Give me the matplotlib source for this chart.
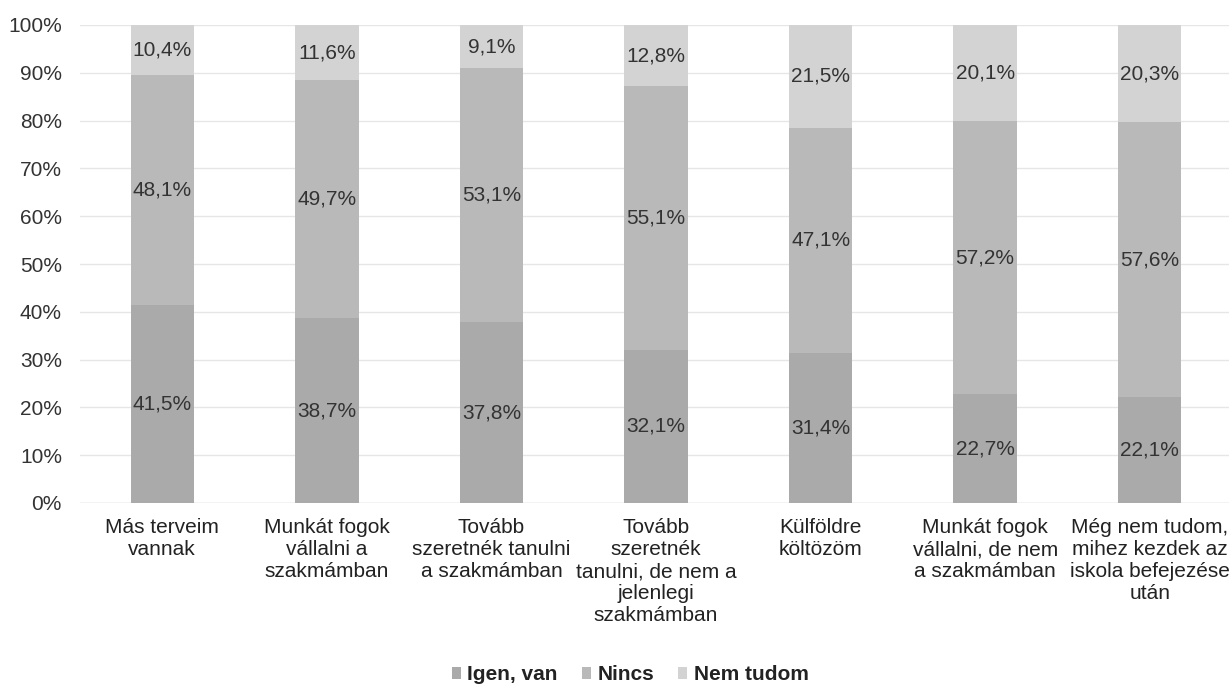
import matplotlib
matplotlib.use("Agg")
import matplotlib.pyplot as plt
import numpy as np

categories = [
    "Más terveim\nvannak",
    "Munkát fogok\nvállalni a\nszakmámban",
    "Tovább\nszeretnék tanulni\na szakmámban",
    "Tovább\nszeretnék\ntanulni, de nem a\njelenlegi\nszakmámban",
    "Külföldre\nköltözöm",
    "Munkát fogok\nvállalni, de nem\na szakmámban",
    "Még nem tudom,\nmihez kezdek az\niskola befejezése\nután",
]
igen = [41.5, 38.7, 37.8, 32.1, 31.4, 22.7, 22.1]
nincs = [48.1, 49.7, 53.1, 55.1, 47.1, 57.2, 57.6]
nem_tudom = [10.4, 11.6, 9.1, 12.8, 21.5, 20.1, 20.3]
series_names = ["Igen, van", "Nincs", "Nem tudom"]
colors = ["#aaaaaa", "#b9b9b9", "#d3d3d3"]

plt.rcParams['font.family'] = ['Liberation Sans', 'DejaVu Sans']

fig = plt.figure(figsize=(12.29, 6.85), dpi=100)
ax = fig.add_axes([80/1229, 1 - 503/685, (1232 - 80)/1229, (503 - 25)/685])

x = np.arange(len(categories))
width = 0.385
bottom = np.zeros(len(categories))
for vals, name, c in zip([igen, nincs, nem_tudom], series_names, colors):
    vals = np.array(vals)
    ax.bar(x, vals, width, bottom=bottom, color=c, label=name, zorder=2)
    for xi, b, v in zip(x, bottom, vals):
        ax.text(xi, b + v / 2, f"{v:.1f}%".replace(".", ","), ha="center", va="center",
                fontsize=15, color="#333333", zorder=3)
    bottom += vals

ax.set_xlim(-0.5, 6.5)
ax.set_ylim(0, 100)
ax.set_yticks(np.arange(0, 101, 10))
ax.set_yticklabels([f"{t}%" for t in range(0, 101, 10)], fontsize=15, color="#333333")
ax.set_xticks(x)
ax.set_xticklabels(categories, fontsize=15, color="#222222", linespacing=1.2)
ax.tick_params(axis="both", length=0)
ax.tick_params(axis="y", pad=13)
ax.tick_params(axis="x", pad=11)
ax.grid(axis="y", color="#e6e6e6", linewidth=1, zorder=0)
for s in ax.spines.values():
    s.set_visible(False)
ax.axhline(0, color="#d9d9d9", linewidth=1, zorder=1)

leg = fig.legend(loc="center", bbox_to_anchor=(630/1229, 1 - 675/685), ncol=3, frameon=False,
                 fontsize=15, handlelength=0.45, handleheight=0.45, columnspacing=1.15,
                 handletextpad=0.3, borderpad=0)
for t in leg.get_texts():
    t.set_fontweight("bold")
    t.set_color("#222222")

fig.savefig("out.png", dpi=100)
